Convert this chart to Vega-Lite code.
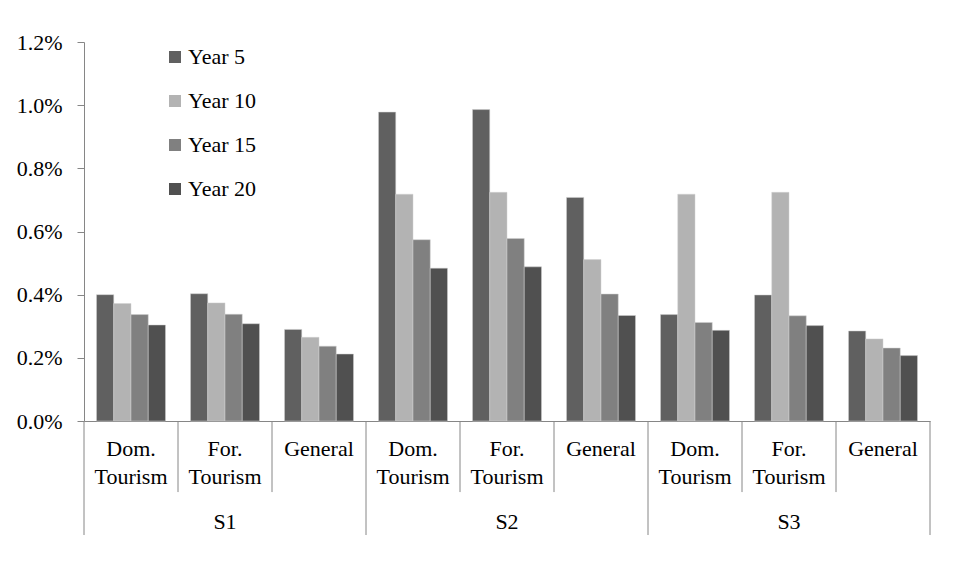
{
  "$schema": "https://vega.github.io/schema/vega-lite/v6.json",
  "autosize": "none",
  "width": 846,
  "height": 379,
  "padding": {"left": 84, "top": 42, "right": 33, "bottom": 160},
  "background": "white",
  "config": {
    "view": {"stroke": null},
    "font": "Times New Roman, Times, Liberation Serif, DejaVu Serif, serif",
    "axis": {"labelFont": "Times New Roman, Times, Liberation Serif, DejaVu Serif, serif", "labelColor": "#000000", "domainColor": "#868686", "tickColor": "#868686"},
    "legend": {"labelFont": "Times New Roman, Times, Liberation Serif, DejaVu Serif, serif"},
    "text": {"font": "Times New Roman, Times, Liberation Serif, DejaVu Serif, serif"}
  },
  "datasets": {
    "bars": [
      {"cat": "S1|Dom. Tourism", "year": "Year 5", "value": 0.00400},
      {"cat": "S1|Dom. Tourism", "year": "Year 10", "value": 0.00372},
      {"cat": "S1|Dom. Tourism", "year": "Year 15", "value": 0.00337},
      {"cat": "S1|Dom. Tourism", "year": "Year 20", "value": 0.00304},
      {"cat": "S1|For. Tourism", "year": "Year 5", "value": 0.00403},
      {"cat": "S1|For. Tourism", "year": "Year 10", "value": 0.00374},
      {"cat": "S1|For. Tourism", "year": "Year 15", "value": 0.00338},
      {"cat": "S1|For. Tourism", "year": "Year 20", "value": 0.00308},
      {"cat": "S1|General", "year": "Year 5", "value": 0.00290},
      {"cat": "S1|General", "year": "Year 10", "value": 0.00265},
      {"cat": "S1|General", "year": "Year 15", "value": 0.00237},
      {"cat": "S1|General", "year": "Year 20", "value": 0.00212},
      {"cat": "S2|Dom. Tourism", "year": "Year 5", "value": 0.00978},
      {"cat": "S2|Dom. Tourism", "year": "Year 10", "value": 0.00718},
      {"cat": "S2|Dom. Tourism", "year": "Year 15", "value": 0.00574},
      {"cat": "S2|Dom. Tourism", "year": "Year 20", "value": 0.00484},
      {"cat": "S2|For. Tourism", "year": "Year 5", "value": 0.00986},
      {"cat": "S2|For. Tourism", "year": "Year 10", "value": 0.00724},
      {"cat": "S2|For. Tourism", "year": "Year 15", "value": 0.00578},
      {"cat": "S2|For. Tourism", "year": "Year 20", "value": 0.00488},
      {"cat": "S2|General", "year": "Year 5", "value": 0.00708},
      {"cat": "S2|General", "year": "Year 10", "value": 0.00511},
      {"cat": "S2|General", "year": "Year 15", "value": 0.00402},
      {"cat": "S2|General", "year": "Year 20", "value": 0.00334},
      {"cat": "S3|Dom. Tourism", "year": "Year 5", "value": 0.00337},
      {"cat": "S3|Dom. Tourism", "year": "Year 10", "value": 0.00718},
      {"cat": "S3|Dom. Tourism", "year": "Year 15", "value": 0.00312},
      {"cat": "S3|Dom. Tourism", "year": "Year 20", "value": 0.00287},
      {"cat": "S3|For. Tourism", "year": "Year 5", "value": 0.00399},
      {"cat": "S3|For. Tourism", "year": "Year 10", "value": 0.00724},
      {"cat": "S3|For. Tourism", "year": "Year 15", "value": 0.00333},
      {"cat": "S3|For. Tourism", "year": "Year 20", "value": 0.00302},
      {"cat": "S3|General", "year": "Year 5", "value": 0.00285},
      {"cat": "S3|General", "year": "Year 10", "value": 0.00260},
      {"cat": "S3|General", "year": "Year 15", "value": 0.00231},
      {"cat": "S3|General", "year": "Year 20", "value": 0.00207}
    ],
    "groupStarts": [
      {"cat": "S1|Dom. Tourism"},
      {"cat": "S2|Dom. Tourism"},
      {"cat": "S3|Dom. Tourism"}
    ],
    "groupEnd": [
      {"cat": "S3|General"}
    ],
    "subStarts": [
      {"cat": "S1|For. Tourism"},
      {"cat": "S1|General"},
      {"cat": "S2|For. Tourism"},
      {"cat": "S2|General"},
      {"cat": "S3|For. Tourism"},
      {"cat": "S3|General"}
    ],
    "scenarios": [
      {"cat": "S1|For. Tourism", "scenario": "S1"},
      {"cat": "S2|For. Tourism", "scenario": "S2"},
      {"cat": "S3|For. Tourism", "scenario": "S3"}
    ]
  },
  "layer": [
    {
      "data": {"name": "bars"},
      "mark": {"type": "bar", "stroke": "#d0d0d0", "strokeWidth": 0.5},
      "encoding": {
        "x": {
          "field": "cat", "type": "nominal",
          "scale": {"domain": ["S1|Dom. Tourism", "S1|For. Tourism", "S1|General", "S2|Dom. Tourism", "S2|For. Tourism", "S2|General", "S3|Dom. Tourism", "S3|For. Tourism", "S3|General"], "paddingInner": 0, "paddingOuter": 0},
          "axis": {
            "title": null, "ticks": false, "labelAngle": 0,
            "labelExpr": "split(split(datum.label, '|')[1], ' ')",
            "labelFontSize": 22, "labelLineHeight": 28, "labelBaseline": "top",
            "labelPadding": 17, "labelOverlap": false, "labelLimit": 200, "domainWidth": 1
          }
        },
        "xOffset": {
          "field": "year", "type": "nominal",
          "scale": {"domain": ["Year 5", "Year 10", "Year 15", "Year 20"], "paddingInner": 0, "paddingOuter": 0.725}
        },
        "y": {
          "field": "value", "type": "quantitative",
          "scale": {"domain": [0, 0.012], "nice": false},
          "axis": {
            "title": null, "format": ".1%", "values": [0, 0.002, 0.004, 0.006, 0.008, 0.010, 0.012],
            "grid": false, "tickSize": 7, "labelPadding": 15, "labelFontSize": 22, "domainWidth": 1
          }
        },
        "color": {
          "field": "year", "type": "nominal",
          "scale": {"domain": ["Year 5", "Year 10", "Year 15", "Year 20"], "range": ["#606060", "#b3b3b3", "#808080", "#505050"]},
          "legend": {
            "title": null, "orient": "none", "legendX": 80, "legendY": 4,
            "symbolType": "square", "symbolSize": 144, "symbolStrokeWidth": 0,
            "labelFontSize": 22, "labelOffset": 2, "rowPadding": 22, "labelColor": "#000000"
          }
        }
      }
    },
    {
      "data": {"name": "groupStarts"},
      "mark": {"type": "rule", "color": "#868686", "strokeWidth": 1},
      "encoding": {
        "x": {"field": "cat", "type": "nominal", "bandPosition": 0},
        "y": {"datum": 0, "type": "quantitative"},
        "y2": {"datum": -0.00361}
      }
    },
    {
      "data": {"name": "groupEnd"},
      "mark": {"type": "rule", "color": "#868686", "strokeWidth": 1},
      "encoding": {
        "x": {"field": "cat", "type": "nominal", "bandPosition": 1},
        "y": {"datum": 0, "type": "quantitative"},
        "y2": {"datum": -0.00361}
      }
    },
    {
      "data": {"name": "subStarts"},
      "mark": {"type": "rule", "color": "#868686", "strokeWidth": 1},
      "encoding": {
        "x": {"field": "cat", "type": "nominal", "bandPosition": 0},
        "y": {"datum": 0, "type": "quantitative"},
        "y2": {"datum": -0.00225}
      }
    },
    {
      "data": {"name": "scenarios"},
      "mark": {"type": "text", "fontSize": 22, "color": "#000000", "baseline": "middle", "align": "center"},
      "encoding": {
        "x": {"field": "cat", "type": "nominal"},
        "y": {"datum": -0.0032, "type": "quantitative"},
        "text": {"field": "scenario"}
      }
    }
  ]
}
